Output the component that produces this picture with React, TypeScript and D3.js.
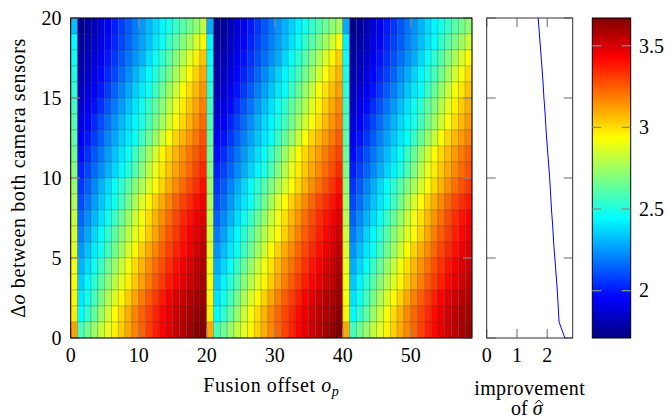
import React from "react";
import * as d3 from "d3";

// axis ticks
const xTicks = [0, 10, 20, 30, 40, 50];
const yTicks = [0, 5, 10, 15, 20];
const sideTicks = [0, 1, 2];
const colorTicks = [2, 2.5, 3, 3.5];
const colorRange = [1.71, 3.67];

// heatmap values (x100), first row = top row (delta o 19..20), 59 columns of o_p
const heatRows = [
  [232,174,178,183,189,195,201,207,213,219,225,231,237,243,249,255,261,266,272,280,229,173,177,182,188,194,200,206,212,218,224,230,236,242,248,254,260,265,271,276,229,173,177,182,188,194,200,206,212,218,224,230,237,243,249,255,261,266,272],
  [244,176,180,185,191,197,203,209,215,221,227,233,240,247,255,262,269,276,285,295,243,175,179,184,190,196,202,208,214,220,226,232,239,246,254,261,268,275,284,293,242,175,179,184,190,196,202,208,214,220,226,232,239,246,254,261,268,275,283],
  [247,178,183,188,194,200,206,212,218,224,230,238,246,254,262,270,278,287,296,305,246,177,182,187,193,199,205,211,217,223,229,237,245,253,261,269,277,286,295,303,246,177,182,187,193,199,205,211,217,223,229,237,245,253,261,269,277,286,294],
  [250,180,185,191,197,203,209,216,223,230,237,244,251,259,267,276,285,294,302,310,249,179,184,190,196,202,208,215,222,229,236,243,250,258,266,275,284,293,301,308,249,179,184,190,196,202,208,215,222,229,236,243,250,258,266,275,284,292,300],
  [254,183,188,194,200,207,214,221,228,235,241,247,256,265,274,283,293,300,307,314,253,182,187,193,199,206,213,220,227,234,240,246,255,264,273,282,292,299,306,312,252,182,187,193,199,206,213,220,227,234,240,246,255,264,273,282,291,298,305],
  [257,186,192,198,205,212,219,226,233,240,247,255,263,271,280,289,297,304,311,318,256,185,191,197,204,211,218,225,232,239,246,254,262,270,279,288,296,303,310,316,256,185,191,197,204,211,218,225,232,239,246,254,262,270,279,288,296,303,309],
  [260,190,196,203,210,217,224,231,238,244,250,258,267,276,285,294,301,308,315,322,259,189,195,202,209,216,223,230,237,243,249,257,266,275,284,293,300,307,314,320,259,189,195,202,209,216,223,230,237,243,249,257,266,275,284,293,300,307,313],
  [263,194,200,207,214,221,228,235,241,247,256,265,274,284,294,302,308,314,320,327,263,193,199,206,213,220,227,234,240,246,255,264,273,283,293,301,307,313,319,325,262,193,199,206,213,220,227,234,240,246,255,264,273,283,293,301,307,313,318],
  [266,198,205,212,219,226,233,240,247,256,265,275,285,295,302,308,314,320,326,331,266,197,204,211,218,225,232,239,246,255,264,274,284,294,301,307,313,319,325,330,265,197,204,211,218,225,232,239,246,255,264,274,284,294,301,307,313,319,324],
  [270,202,209,216,223,230,237,244,251,260,270,280,290,298,305,311,317,323,329,335,269,201,208,215,222,229,236,243,250,259,269,279,289,297,304,310,316,322,328,334,269,201,208,215,222,229,236,243,250,259,269,279,289,297,304,310,316,322,327],
  [274,206,214,222,230,238,246,254,262,270,278,286,294,302,309,316,322,328,334,340,273,205,213,221,229,237,245,253,261,269,277,285,293,301,308,315,321,327,333,339,273,205,213,221,229,237,245,253,261,269,277,285,293,301,308,315,321,327,332],
  [278,210,218,226,234,241,248,257,267,277,287,295,303,310,317,324,330,335,340,345,277,209,217,225,233,240,247,256,266,276,286,294,302,309,316,323,329,334,339,344,277,209,217,225,233,240,247,256,266,276,286,294,302,309,316,323,329,334,338],
  [282,215,223,231,239,247,256,265,274,283,292,300,308,315,322,329,335,340,345,349,281,214,222,230,238,246,255,264,273,282,291,299,307,314,321,328,334,339,344,348,280,214,222,230,238,246,255,264,273,282,291,299,307,314,321,328,334,339,343],
  [285,220,228,237,245,253,262,271,280,288,295,303,311,319,326,332,338,343,348,352,284,219,227,236,244,252,261,270,279,287,294,302,310,318,325,331,337,342,347,352,284,219,227,236,244,252,261,270,279,287,294,302,310,318,325,331,337,342,346],
  [288,225,233,241,248,257,266,275,285,295,303,310,317,324,330,336,341,346,351,355,287,224,232,240,247,256,265,274,284,294,302,309,316,323,329,335,340,345,350,355,287,224,232,240,247,256,265,274,284,294,302,309,316,323,329,335,340,345,349],
  [291,230,238,247,256,265,274,283,292,300,308,315,322,328,334,340,345,350,354,358,290,229,237,246,255,264,273,282,291,299,307,314,321,327,333,339,344,349,353,358,290,229,237,246,255,264,273,282,291,299,307,314,321,327,333,339,344,349,352],
  [293,235,244,253,262,271,280,288,296,304,312,319,326,332,338,343,348,352,356,360,292,234,243,252,261,270,279,287,295,303,311,318,325,331,337,342,347,351,355,360,292,234,243,252,261,270,279,287,295,303,311,318,325,331,337,342,347,351,354],
  [295,240,248,258,268,278,287,295,303,311,319,326,332,338,344,349,353,357,360,362,294,239,247,257,267,277,286,294,302,310,318,325,331,337,343,348,352,356,359,362,294,239,247,257,267,277,286,294,302,310,318,325,331,337,343,348,352,356,357],
  [297,245,254,264,274,284,293,301,309,317,324,330,336,342,347,352,356,359,362,365,296,244,253,263,273,283,292,300,308,316,323,329,335,341,346,351,355,358,361,365,296,244,253,263,273,283,292,300,308,316,323,329,335,341,346,351,355,358,359],
  [312,258,266,274,282,289,296,303,310,317,324,331,337,343,348,353,357,361,365,368,310,257,265,273,281,288,295,302,309,316,323,330,336,342,347,352,356,360,364,368,310,257,265,273,281,288,295,302,309,316,323,330,336,342,347,352,356,360,362],
];

// side panel: improvement of sigma-hat per delta o
const rowOffsets = [0, 1, 2, 3, 4, 5, 6, 7, 8, 9, 10, 11, 12, 13, 14, 15, 16, 17, 18, 19, 20];
const improvement = [2.58, 2.39, 2.36, 2.33, 2.29, 2.25, 2.21, 2.18, 2.14, 2.11, 2.08, 2.04, 2.0, 1.96, 1.93, 1.89, 1.86, 1.82, 1.78, 1.74, 1.7];

// pgfplots "jet"
const jetStops = [0, 0.125, 0.375, 0.625, 0.875, 1];
const jetColors = ["#000080", "#0000ff", "#00ffff", "#ffff00", "#ff0000", "#800000"];

const FONT = "'Liberation Serif', 'Times New Roman', serif";
const TICK = 9;
const TICK_COLOR = "#8a8a8a";

export default function App() {
  const top = 18;
  const bottom = 338;
  const main = { left: 70.7, right: 472 };
  const side = { left: 486.7, right: 572.7 };
  const bar = { left: 592.3, right: 630.7 };

  const nCols = heatRows[0].length;
  const nRows = heatRows.length;

  const x = d3.scaleLinear().domain([0, nCols]).range([main.left, main.right]);
  const y = d3.scaleLinear().domain([0, 20]).range([bottom, top]);
  const xs = d3.scaleLinear().domain([0, 2.84]).range([side.left, side.right]);
  const cy = d3.scaleLinear().domain(colorRange).range([bottom, top]);

  const norm = d3.scaleLinear().domain(colorRange).range([0, 1]).clamp(true);
  const jet = d3
    .scaleLinear<string>()
    .domain(jetStops)
    .range(jetColors)
    .interpolate(d3.interpolateRgb);
  const color = (v: number) => jet(norm(v));

  const line = d3
    .line<number>()
    .x((d) => xs(d))
    .y((_, i) => y(rowOffsets[i]));

  const cells: JSX.Element[] = [];
  heatRows.forEach((row, i) => {
    const r = nRows - 1 - i;
    row.forEach((v, j) => {
      cells.push(
        <rect
          key={`${i}-${j}`}
          x={x(j)}
          y={y(r + 1)}
          width={x(j + 1) - x(j)}
          height={y(r) - y(r + 1)}
          fill={color(v / 100)}
          stroke="#3a3a3a"
          strokeOpacity={0.28}
          strokeWidth={0.8}
        />
      );
    });
  });

  return (
    <svg
      width={668}
      height={420}
      style={{ position: "absolute", left: 0, top: 0 }}
      fontFamily={FONT}
      fontSize={20}
    >
      <defs>
        <linearGradient id="jetbar" x1="0" y1="1" x2="0" y2="0">
          {jetStops.map((s, i) => (
            <stop key={i} offset={s} stopColor={jetColors[i]} />
          ))}
        </linearGradient>
      </defs>

      {/* heatmap */}
      <g>{cells}</g>

      {/* main ticks */}
      {xTicks.map((t) => (
        <g key={`xt${t}`} stroke={TICK_COLOR} strokeWidth={1.3}>
          <line x1={x(t)} x2={x(t)} y1={bottom} y2={bottom - TICK} />
          <line x1={x(t)} x2={x(t)} y1={top} y2={top + TICK} />
        </g>
      ))}
      {yTicks.map((t) => (
        <g key={`yt${t}`} stroke={TICK_COLOR} strokeWidth={1.3}>
          <line x1={main.left} x2={main.left + TICK} y1={y(t)} y2={y(t)} />
          <line x1={main.right} x2={main.right - TICK} y1={y(t)} y2={y(t)} />
        </g>
      ))}
      <rect
        x={main.left}
        y={top}
        width={main.right - main.left}
        height={bottom - top}
        fill="none"
        stroke="#000"
        strokeWidth={1}
      />

      {/* main tick labels */}
      {xTicks.map((t) => (
        <text key={`xl${t}`} x={x(t)} y={bottom + 23.5} textAnchor="middle">
          {t}
        </text>
      ))}
      {yTicks.map((t) => (
        <text key={`yl${t}`} x={61.5} y={y(t)} dy="0.34em" textAnchor="end">
          {t}
        </text>
      ))}

      {/* axis labels */}
      <text x={(main.left + main.right) / 2} y={392} textAnchor="middle" letterSpacing={0.6}>
        Fusion offset <tspan fontStyle="italic">o</tspan>
        <tspan fontStyle="italic" fontSize={14} dy={4}>
          p
        </tspan>
      </text>
      <text
        transform={`translate(25,${(top + bottom) / 2}) rotate(-90)`}
        textAnchor="middle"
        letterSpacing={0.6}
      >
        Δ<tspan fontStyle="italic">o</tspan> between both camera sensors
      </text>

      {/* side panel */}
      {sideTicks.map((t) => (
        <g key={`st${t}`} stroke={TICK_COLOR} strokeWidth={1.3}>
          <line x1={xs(t)} x2={xs(t)} y1={bottom} y2={bottom - TICK} />
          <line x1={xs(t)} x2={xs(t)} y1={top} y2={top + TICK} />
        </g>
      ))}
      {yTicks.map((t) => (
        <g key={`sy${t}`} stroke={TICK_COLOR} strokeWidth={1.3}>
          <line x1={side.left} x2={side.left + TICK} y1={y(t)} y2={y(t)} />
          <line x1={side.right} x2={side.right - TICK} y1={y(t)} y2={y(t)} />
        </g>
      ))}
      <path d={line(improvement) ?? ""} fill="none" stroke="#0000ff" strokeWidth={1} />
      <rect
        x={side.left}
        y={top}
        width={side.right - side.left}
        height={bottom - top}
        fill="none"
        stroke="#333"
        strokeWidth={1}
      />
      {sideTicks.map((t) => (
        <text key={`sl${t}`} x={xs(t)} y={bottom + 23.5} textAnchor="middle">
          {t}
        </text>
      ))}
      <text x={(side.left + side.right) / 2} y={395} textAnchor="middle" letterSpacing={0.4}>
        improvement
      </text>
      <text x={511} y={415}>
        of <tspan fontStyle="italic">σ</tspan>
      </text>
      {/* hat over sigma */}
      <path d="M535.5,403.5 L538.8,400 L542.1,403.5" fill="none" stroke="#000" strokeWidth={1} />

      {/* colorbar */}
      <rect
        x={bar.left}
        y={top}
        width={bar.right - bar.left}
        height={bottom - top}
        fill="url(#jetbar)"
        stroke="#000"
        strokeWidth={1}
      />
      {colorTicks.map((t) => (
        <g key={`ct${t}`}>
          <line x1={bar.left} x2={bar.left + TICK} y1={cy(t)} y2={cy(t)} stroke={TICK_COLOR} strokeWidth={1.3} />
          <line x1={bar.right} x2={bar.right - TICK} y1={cy(t)} y2={cy(t)} stroke={TICK_COLOR} strokeWidth={1.3} />
          <text x={639} y={cy(t)} dy="0.34em">
            {t}
          </text>
        </g>
      ))}
    </svg>
  );
}
